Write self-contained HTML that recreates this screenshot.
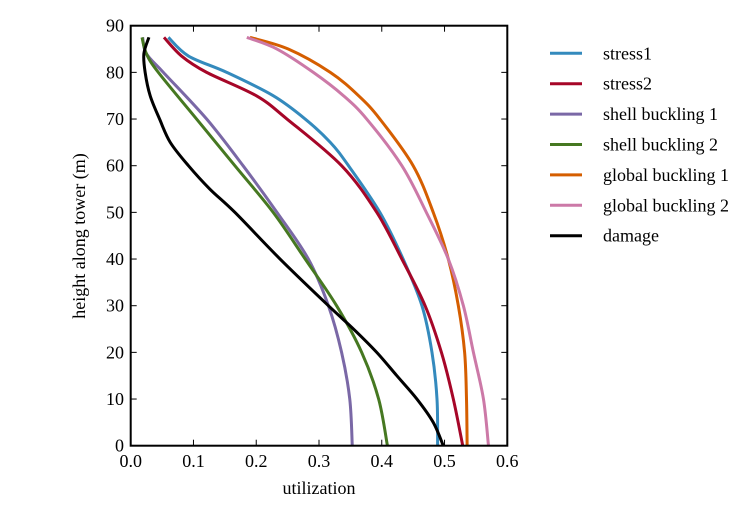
<!DOCTYPE html>
<html><head><meta charset="utf-8"><style>
body{margin:0;background:#fff;}
svg text{font-family:"Liberation Serif",serif;font-size:18px;fill:#000;}
</style></head><body>
<svg id="chart" width="750" height="525" viewBox="0 0 750 525" xmlns="http://www.w3.org/2000/svg">
<g id="plot"></g>
<g id="axes"></g>
<g id="legend"></g>
</svg>
<script>
const seriesNames=["stress1","stress2","shell buckling 1","shell buckling 2","global buckling 1","global buckling 2","damage"];
const seriesColors=["#348ABD","#A60628","#7A68A6","#467821","#D55E00","#CC79A7","#000000"];
const stress1H=[0,10,20,30,40,50,60,65,70,75,80,83.5,87.5];
const stress1U=[0.489,0.488,0.48,0.464,0.434,0.397,0.347,0.318,0.278,0.227,0.153,0.092,0.06];
const stress2H=[0,10,20,30,40,50,60,70,75,80,83.5,87.5];
const stress2U=[0.529,0.514,0.495,0.469,0.432,0.392,0.336,0.249,0.2,0.121,0.081,0.053];
const shell1H=[0,10,20,30,40,50,60,70,80,84,87.5];
const shell1U=[0.353,0.349,0.336,0.315,0.283,0.233,0.179,0.121,0.052,0.025,0.019];
const shell2H=[0,10,20,30,40,50,60,70,80,84,87.5];
const shell2U=[0.409,0.395,0.368,0.328,0.278,0.227,0.166,0.105,0.044,0.025,0.018];
const global1H=[0,10,20,30,40,50,60,70,75,80,85,87.5];
const global1U=[0.536,0.535,0.532,0.522,0.506,0.482,0.45,0.397,0.363,0.318,0.251,0.19];
const global2H=[0,10,20,30,40,50,60,70,75,80,85,87.5];
const global2U=[0.57,0.562,0.546,0.53,0.506,0.471,0.432,0.376,0.339,0.291,0.233,0.185];
const damageH=[0,5,10,15,20,25,30,40,50,55,60,65,70,75,80,84,87.5];
const damageU=[0.498,0.482,0.456,0.424,0.392,0.355,0.315,0.238,0.166,0.126,0.092,0.063,0.046,0.031,0.023,0.021,0.029];
const xTicks=[0,0.1,0.2,0.3,0.4,0.5,0.6];
const xTickLabels=["0.0","0.1","0.2","0.3","0.4","0.5","0.6"];
const yTicks=[0,10,20,30,40,50,60,70,80,90];
const yTickLabels=["0","10","20","30","40","50","60","70","80","90"];

const X0=130.7,X1=507.3,Y0=445.7,Y1=25.7;
const xs=v=>X0+(v-0)/(0.6-0)*(X1-X0);
const ys=v=>Y0-(v-0)/(90-0)*(Y0-Y1);
const NS="http://www.w3.org/2000/svg";
function mk(tag,parent){const e=document.createElementNS(NS,tag);parent.appendChild(e);return e;}
const plot=document.getElementById('plot'),axes=document.getElementById('axes'),legend=document.getElementById('legend');

function smoothPath(pts){
  let d="M"+pts[0][0].toFixed(2)+","+pts[0][1].toFixed(2);
  for(let i=0;i<pts.length-1;i++){
    const p0=pts[i-1]||pts[i],p1=pts[i],p2=pts[i+1],p3=pts[i+2]||p2;
    const c1=[p1[0]+(p2[0]-p0[0])/6,p1[1]+(p2[1]-p0[1])/6];
    const c2=[p2[0]-(p3[0]-p1[0])/6,p2[1]-(p3[1]-p1[1])/6];
    d+=" C"+c1[0].toFixed(2)+","+c1[1].toFixed(2)+" "+c2[0].toFixed(2)+","+c2[1].toFixed(2)+" "+p2[0].toFixed(2)+","+p2[1].toFixed(2);
  }
  return d;
}
const allH=[stress1H,stress2H,shell1H,shell2H,global1H,global2H,damageH];
const allU=[stress1U,stress2U,shell1U,shell2U,global1U,global2U,damageU];
const lineNames=["line-stress1","line-stress2","line-shell-buckling-1","line-shell-buckling-2","line-global-buckling-1","line-global-buckling-2","line-damage"];
allH.forEach((H,i)=>{
  const pts=H.map((h,j)=>[xs(allU[i][j]),ys(h)]);
  const p=mk('path',plot);
  
  
  p.setAttribute('d',smoothPath(pts));
  p.setAttribute('fill','none');p.setAttribute('stroke',seriesColors[i]);p.setAttribute('stroke-width','3');
});

// frame
const fr=mk('rect',axes);


fr.setAttribute('x',X0);fr.setAttribute('y',Y1);fr.setAttribute('width',X1-X0);fr.setAttribute('height',Y0-Y1);
fr.setAttribute('fill','none');fr.setAttribute('stroke','#000');fr.setAttribute('stroke-width','2');

xTicks.forEach((v,i)=>{
  const x=xs(v);
  [[Y0,Y0-6],[Y1,Y1+6]].forEach(a=>{const l=mk('line',axes);
    
    
    l.setAttribute('x1',x);l.setAttribute('x2',x);l.setAttribute('y1',a[0]);l.setAttribute('y2',a[1]);l.setAttribute('stroke','#000');l.setAttribute('stroke-width','1');});
  const t=mk('text',axes);
  
  
  t.setAttribute('x',x);t.setAttribute('y',467);t.setAttribute('text-anchor','middle');t.textContent=xTickLabels[i];
});
yTicks.forEach((v,i)=>{
  const y=ys(v);
  [[X0,X0+6],[X1,X1-6]].forEach(a=>{const l=mk('line',axes);
    
    
    l.setAttribute('y1',y);l.setAttribute('y2',y);l.setAttribute('x1',a[0]);l.setAttribute('x2',a[1]);l.setAttribute('stroke','#000');l.setAttribute('stroke-width','1');});
  const t=mk('text',axes);
  
  
  t.setAttribute('x',124);t.setAttribute('y',y+6);t.setAttribute('text-anchor','end');t.textContent=yTickLabels[i];
});
const xt=mk('text',axes);


xt.setAttribute('x',319);xt.setAttribute('y',494);xt.setAttribute('text-anchor','middle');xt.textContent='utilization';
const yt=mk('text',axes);


yt.setAttribute('transform','translate(85,236) rotate(-90)');yt.setAttribute('text-anchor','middle');yt.textContent='height along tower (m)';

seriesNames.forEach((n,i)=>{
  const y=53.3+i*30.4;
  const g=mk('g',legend);
  
  
  const l=mk('line',g);
  
  
  l.setAttribute('x1',550);l.setAttribute('x2',582);l.setAttribute('y1',y);l.setAttribute('y2',y);l.setAttribute('stroke',seriesColors[i]);l.setAttribute('stroke-width','3');
  const t=mk('text',g);
  
  
  t.setAttribute('x',603);t.setAttribute('y',y+6);t.textContent=n;
});
</script>
</body></html>
